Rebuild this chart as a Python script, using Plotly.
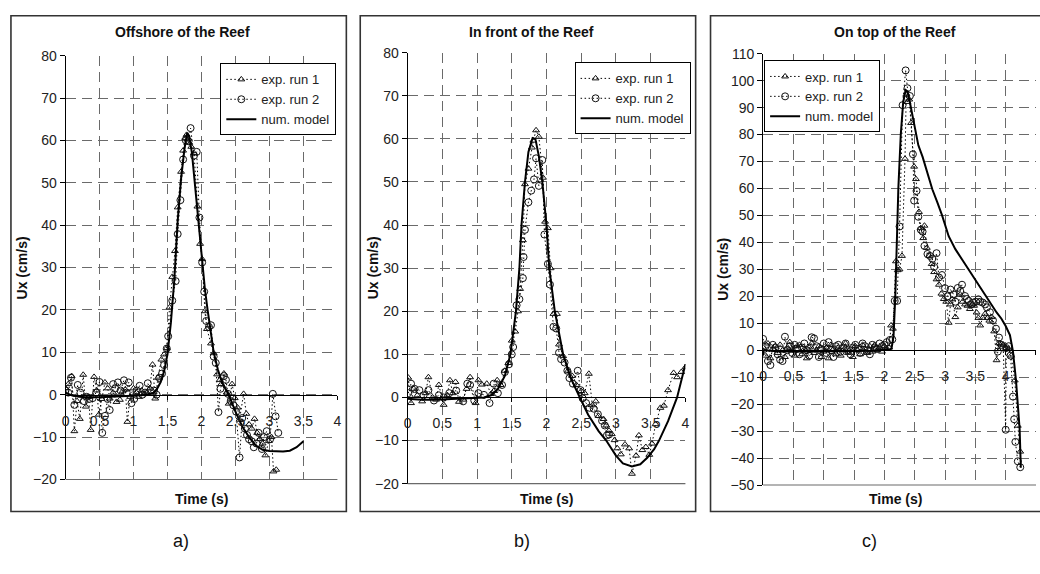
import plotly.graph_objects as go

# ---------------- data ----------------
# Panel a) Offshore of the Reef
a_run1_t = [0.00,0.04,0.09,0.13,0.17,0.21,0.26,0.30,0.34,0.37,0.42,0.46,0.49,0.53,0.58,0.62,0.65,0.70,0.75,0.80,
            0.84,0.88,0.91,0.95,1.00,1.04,1.08,1.12,1.16,1.20,1.24,1.28,1.32,1.36,1.41,1.45,1.49,1.53,1.57,1.61,
            1.65,1.70,1.73,1.76,1.78,1.81,1.85,1.89,1.94,1.98,2.01,2.05,2.08,2.14,2.18,2.23,2.27,2.29,2.33,2.37,
            2.40,2.45,2.49,2.53,2.56,2.62,2.66,2.70,2.74,2.78,2.82,2.86,2.90,2.94,2.99,3.03,3.06,3.10]
a_run1_u = [1.5,2.5,4.4,-8.6,-1.5,-5.7,4.7,-2.8,-0.5,-8.3,4.2,1.0,-4.7,-1.0,2.9,1.5,-0.9,0.5,-1.7,-1.2,
            0.8,1.2,-6.4,-0.5,1.5,0.5,-0.5,1.0,0.2,0.5,1.5,7.1,-0.9,4.0,8.3,9.5,11.0,20.6,27.8,33.9,
            44.2,52.6,57.6,60.6,61.3,59.5,58.5,57.0,44.4,35.6,32.0,19.7,15.5,12.1,9.8,4.8,3.5,2.5,5.0,0.5,
            -2.1,2.5,-0.8,-3.0,-5.9,0.2,-4.5,-7.0,-8.0,-5.7,-9.0,-10.5,-11.5,-14.3,-10.9,-10.0,-18.1,-17.7]
a_run2_t = [0.00,0.04,0.08,0.13,0.18,0.22,0.27,0.31,0.35,0.40,0.45,0.50,0.54,0.58,0.62,0.65,0.70,0.73,0.77,0.81,
            0.86,0.90,0.93,0.97,1.01,1.05,1.09,1.13,1.17,1.21,1.25,1.30,1.34,1.38,1.42,1.45,1.49,1.51,1.57,1.62,
            1.65,1.69,1.73,1.77,1.81,1.84,1.89,1.93,1.97,2.01,2.04,2.07,2.11,2.14,2.18,2.21,2.25,2.28,2.33,2.36,
            2.39,2.43,2.47,2.51,2.56,2.60,2.64,2.67,2.70,2.74,2.77,2.81,2.84,2.89,2.92,2.96,3.01,3.05,3.09,3.13]
a_run2_u = [1.0,0.5,4.0,-2.4,2.3,0.5,-1.5,-0.5,-1.0,-0.8,0.5,3.0,-9.0,-5.0,-1.0,-3.6,2.5,1.5,2.9,1.0,
            3.4,0.5,2.9,-2.0,-1.0,1.0,2.1,0.0,0.5,2.7,1.0,1.0,0.0,4.0,5.0,7.0,10.9,13.8,22.2,26.8,
            37.9,45.9,55.5,60.0,59.8,62.9,56.4,57.3,41.8,31.2,24.3,17.4,16.0,16.4,9.0,7.5,-4.1,1.4,4.4,3.5,
            0.2,-1.5,-2.5,-4.0,-14.8,-5.5,-8.0,-9.5,-10.5,-11.0,-12.4,-11.5,-9.0,-12.8,-10.0,-8.6,-10.5,0.2,-5.1,-9.0]
a_model_t = [0.0,0.1,0.2,0.3,0.5,0.7,0.9,1.1,1.2,1.3,1.35,1.4,1.45,1.5,1.55,1.6,1.63,1.65,1.7,1.75,
             1.79,1.82,1.86,1.89,1.93,1.97,2.01,2.05,2.09,2.13,2.18,2.24,2.3,2.4,2.5,2.6,2.7,2.8,2.9,3.0,
             3.1,3.2,3.3,3.4,3.5]
a_model_u = [0.5,-0.2,-0.5,-0.6,-0.6,-0.5,-0.3,-0.1,0.0,0.5,1.5,3.0,5.5,9.5,17,27,35,41,51,58,
             61.8,61,57,52,46,39,31,25,20,15,10,6,3,0,-4,-7.5,-10,-12,-13,-13.3,
             -13.4,-13.4,-13.2,-12.4,-11]

# Panel b) In front of the Reef
b_run1_t = [0.01,0.05,0.09,0.14,0.21,0.26,0.30,0.36,0.41,0.45,0.52,0.57,0.61,0.65,0.69,0.74,0.80,0.85,0.90,0.98,
            1.02,1.07,1.14,1.20,1.24,1.29,1.34,1.40,1.45,1.50,1.55,1.59,1.62,1.66,1.69,1.74,1.79,1.81,1.85,1.89,
            1.95,1.98,2.02,2.06,2.10,2.15,2.18,2.24,2.31,2.37,2.43,2.50,2.55,2.61,2.66,2.71,2.75,2.82,2.86,2.90,
            2.94,2.98,3.02,3.07,3.13,3.19,3.23,3.29,3.33,3.38,3.43,3.48,3.52,3.57,3.64,3.69,3.75,3.83,3.88,3.94,4.00]
b_run1_u = [4.6,-1.3,2.0,0.5,-0.9,1.0,4.7,0.0,-0.5,2.9,-1.7,0.5,4.0,1.0,3.6,-1.0,-0.5,2.0,4.7,-1.3,
            4.0,3.0,3.2,0.8,1.5,4.0,2.9,6.2,8.0,13.2,15.3,20.0,25.2,36.5,49.5,53.1,58.0,59.6,62.0,60.5,
            51.0,40.8,39.3,30.0,19.4,19.4,12.3,9.6,6.2,5.0,2.9,1.5,1.0,5.5,-1.8,-0.9,-4.3,-5.0,-6.5,-7.7,
            -8.5,-9.9,-11.8,-13.2,-10.9,-11.8,-17.7,-13.5,-8.8,-12.2,-11.5,-13.3,-10.7,-6.2,-2.4,-1.9,1.7,5.7,4.7,5.9,7.0]
b_run2_t = [0.01,0.05,0.10,0.17,0.23,0.30,0.38,0.45,0.52,0.60,0.70,0.80,0.86,0.90,0.96,1.02,1.10,1.18,1.24,1.30,
            1.36,1.40,1.46,1.50,1.52,1.57,1.61,1.66,1.67,1.69,1.74,1.78,1.82,1.85,1.89,1.94,1.97,2.02,2.05,2.10,
            2.14,2.18,2.21,2.26,2.30,2.33,2.38,2.45,2.49,2.52,2.57,2.62,2.68,2.74,2.80,2.84,2.87,2.90]
b_run2_u = [1.0,3.2,2.0,1.7,0.5,1.7,-0.7,0.5,0.0,1.0,1.6,-0.9,3.2,2.9,-0.7,1.0,0.6,-1.3,3.2,1.0,
            2.9,5.9,7.7,10.0,11.7,21.4,22.8,27.7,32.6,38.9,45.3,48.0,50.6,55.5,49.1,55.1,37.8,31.0,26.2,16.4,
            16.0,10.4,8.9,8.1,6.2,4.5,3.2,6.2,1.7,-0.2,-1.3,-2.4,-2.6,-3.9,-5.4,-6.5,-8.8,-8.6]
b_model_t = [0.0,0.2,0.4,0.6,0.8,1.0,1.1,1.2,1.3,1.4,1.48,1.56,1.61,1.64,1.69,1.74,1.8,1.84,1.89,1.94,
             2.0,2.04,2.12,2.24,2.35,2.48,2.6,2.75,2.86,3.0,3.1,3.23,3.35,3.45,3.55,3.62,3.75,3.88,3.95,4.0]
b_model_u = [-0.3,-0.5,-0.5,-0.4,-0.3,-0.2,0.0,0.5,2.0,5.0,10.0,20.0,30.0,40.0,50.0,57.0,60.2,60.0,56.0,50.0,
             40.0,30.0,20.0,10.0,4.5,0.0,-4.0,-7.8,-10.0,-13.5,-15.3,-16.0,-15.5,-14.0,-12.0,-10.0,-5.5,0.0,4.5,7.7]

# Panel c) On top of the Reef
c_flat_t = [0.00,0.04,0.08,0.12,0.16,0.20,0.24,0.28,0.32,0.36,0.40,0.44,0.48,0.52,0.56,0.60,0.64,0.68,0.72,0.76,
            0.80,0.84,0.88,0.92,0.96,1.00,1.04,1.08,1.12,1.16,1.20,1.24,1.28,1.32,1.36,1.40,1.44,1.48,1.52,1.56,
            1.60,1.64,1.68,1.72,1.76,1.80,1.84,1.88,1.92,1.96,2.00,2.04]
c_run1_flat_u = [1.0,-2.0,2.5,-3.0,0.5,1.5,-1.0,2.0,0.0,-2.5,1.0,3.0,0.5,-2.0,1.5,2.0,-1.5,0.5,-3.0,1.0,
                 2.5,-1.0,0.0,1.5,-2.5,-0.5,1.0,-3.0,2.0,0.5,-1.5,1.0,-2.0,0.0,2.5,-1.0,0.5,-2.5,1.5,0.0,
                 -1.5,2.0,0.5,-1.0,1.5,-0.5,2.0,0.0,1.0,-0.5,1.5,0.5]
c_run1_t = [2.08,2.11,2.14,2.19,2.22,2.25,2.29,2.34,2.36,2.38,2.41,2.44,2.49,2.52,2.57,2.60,2.64,2.66,2.70,2.74,
            2.78,2.82,2.86,2.90,2.94,2.98,3.02,3.06,3.09,3.12,3.17,3.21,3.25,3.29,3.33,3.37,3.41,3.45,3.48,3.52,
            3.55,3.58,3.62,3.66,3.70,3.73,3.77,3.81,3.85,3.89,3.93,3.96,4.01,4.05,4.09,4.15,4.20,4.24]
c_run1_u = [1.0,9.2,8.0,33.0,29.7,30.0,35.0,71.0,94.8,92.1,93.0,84.3,68.1,63.5,51.3,45.3,41.6,46.2,38.0,35.0,
            32.0,29.0,26.3,24.3,21.0,19.0,18.0,10.2,17.0,18.9,12.3,15.9,20.7,18.0,17.0,16.5,15.3,17.0,16.5,14.0,
            12.0,9.2,12.0,13.5,12.0,11.0,12.3,7.0,-3.7,2.6,2.2,2.0,0.8,0.5,-2.0,-11.2,-28.0,-37.6]
c_run2_flat_u = [4.2,1.5,-4.0,-5.5,2.0,1.0,-1.5,-3.5,-4.0,5.0,0.0,1.5,-1.0,2.0,0.5,-1.5,1.0,2.5,0.0,-2.0,
                 4.8,4.4,1.5,-2.5,0.5,2.5,-1.0,3.0,0.0,-2.5,1.5,2.0,-0.5,1.0,2.5,0.0,-1.5,1.0,2.0,0.5,
                 -1.0,2.5,1.5,0.0,-1.5,2.0,1.0,0.5,2.5,1.5,2.0,3.0]
c_run2_t = [2.09,2.13,2.17,2.21,2.25,2.30,2.35,2.38,2.42,2.47,2.49,2.53,2.56,2.60,2.63,2.66,2.71,2.75,2.79,2.82,
            2.86,2.90,2.95,3.00,3.04,3.09,3.14,3.17,3.21,3.25,3.28,3.33,3.36,3.39,3.43,3.47,3.51,3.55,3.58,3.62,
            3.66,3.69,3.74,3.79,3.84,3.87,3.89,3.93,3.96,4.00,4.01,4.05,4.08,4.12,4.14,4.16,4.20,4.24]
c_run2_u = [3.8,4.0,18.3,18.3,45.9,90.9,103.8,97.2,94.3,72.7,55.5,59.1,49.5,44.7,44.0,38.7,35.7,35.0,33.9,30.9,
            36.0,27.0,27.9,23.0,20.0,22.5,20.7,18.0,23.1,22.0,24.3,20.1,19.0,18.3,17.0,17.7,18.0,18.9,18.0,17.7,
            17.0,15.9,14.1,11.1,8.0,-0.5,4.7,2.0,1.0,-29.5,0.8,1.5,-2.0,-17.2,-25.6,-34.0,-41.2,-43.4]
c_model_t = [0.0,0.3,0.6,0.9,1.2,1.5,1.8,2.0,2.1,2.12,2.15,2.18,2.2,2.23,2.27,2.31,2.35,2.38,2.42,2.49,
             2.56,2.63,2.72,2.79,2.87,2.95,3.06,3.17,3.3,3.5,3.71,3.85,3.93,4.0,4.07,4.12,4.17,4.23,4.25]
c_model_u = [0.0,-0.5,-0.5,-0.5,-0.4,-0.3,-0.2,0.0,0.3,1.0,5.0,20.0,40.0,60.0,80.0,92.0,96.5,96.0,92.0,83.7,
             76.0,71.7,65.0,59.7,55.0,50.1,42.3,37.5,33.0,26.0,18.9,14.0,11.7,9.0,5.6,-0.4,-11.2,-29.2,-43.6]

titles = ["Offshore of the Reef", "In front of the Reef", "On top of the Reef"]
captions = ["a)", "b)", "c)"]
series_names = ["exp. run 1", "exp. run 2", "num. model"]
x_ranges = [[0, 4], [0, 4], [0, 4.5]]
y_ranges = [[-20, 80], [-20, 80], [-50, 110]]

# ---------------- layout helpers (pixels -> paper) ----------------
W, H = 1040, 574
FONT = "Liberation Sans, Arial, sans-serif"


def px(x):
    return x / W


def py(y):
    return 1 - y / H


# plot-area pixel boxes (left, right, top, bottom)
areas = [(62, 336, 49, 485), (406.7, 686.7, 46, 489.3), (765, 1040, 47, 490.7)]
frames = [(7, 345, 8, 518), (359, 697, 8, 518), (712, 1046, 8, 518)]
legend_pos = [(218, 57), (575, 56), (766, 54)]
title_x = [180, 532, 898]
ytitle_x = [18, 372, 725]
xtitle_x = [199, 547, 898]
caption_x = [178, 522, 872]

panels = [
    (a_run1_t, a_run1_u, a_run2_t, a_run2_u, a_model_t, a_model_u),
    (b_run1_t, b_run1_u, b_run2_t, b_run2_u, b_model_t, b_model_u),
    (c_flat_t + c_run1_t, c_run1_flat_u + c_run1_u, c_flat_t + c_run2_t, c_run2_flat_u + c_run2_u,
     c_model_t, c_model_u),
]

fig = go.Figure()
layout = {}
annotations = []
shapes = []
GRID = "#6a6a6a"
DASH = "10px,6px"
DOT = "1.5px,2.5px"

for i, (r1t, r1u, r2t, r2u, mt, mu) in enumerate(panels):
    n = "" if i == 0 else str(i + 1)
    xa, ya, lg = "x" + n, "y" + n, "legend" + n
    common = dict(xaxis=xa, yaxis=ya, legend=lg)
    fig.add_trace(go.Scatter(x=r1t, y=r1u, name=series_names[0], mode="lines+markers",
                             line=dict(color="black", width=1, dash=DOT),
                             marker=dict(symbol="triangle-up-open", size=6, color="#111",
                                         line=dict(width=1, color="#111")), **common))
    fig.add_trace(go.Scatter(x=r2t, y=r2u, name=series_names[1], mode="lines+markers",
                             line=dict(color="black", width=1, dash=DOT),
                             marker=dict(symbol="circle-open", size=7, color="#111",
                                         line=dict(width=1, color="#111")), **common))
    fig.add_trace(go.Scatter(x=mt, y=mu, name=series_names[2], mode="lines",
                             line=dict(color="black", width=2), **common))

    L, R, T, B = areas[i]
    y0, y1 = py(B), py(T)
    ymin, ymax = y_ranges[i]
    zero_pos = y0 + (0 - ymin) / (ymax - ymin) * (y1 - y0)

    layout["xaxis" + n] = dict(domain=[px(L), px(R)], range=x_ranges[i], dtick=0.5, tick0=0,
                               anchor="free", position=zero_pos,
                               showline=True, linecolor="black", linewidth=1,
                               showgrid=True, gridcolor=GRID, gridwidth=1, griddash=DASH,
                               ticks="outside", ticklen=4, tickcolor="black",
                               tickfont=dict(size=14, family=FONT, color="#222"),
                               ticklabelstandoff=9, zeroline=False, fixedrange=True)
    layout["yaxis" + n] = dict(domain=[y0, y1], range=y_ranges[i], dtick=10, tick0=0,
                               anchor=xa, showline=True, linecolor="black", linewidth=1,
                               showgrid=True, gridcolor=GRID, gridwidth=1, griddash=DASH,
                               ticks="outside", ticklen=5, tickcolor="black",
                               tickfont=dict(size=14, family=FONT, color="#222"),
                               zeroline=False, fixedrange=True)
    lx, ly = legend_pos[i]
    layout[lg] = dict(x=px(lx), y=py(ly), xanchor="left", yanchor="top",
                      bordercolor="black", borderwidth=1, bgcolor="white",
                      font=dict(size=13, family=FONT, color="#222"),
                      tracegroupgap=0, itemwidth=30, traceorder="normal")

    # bottom border of plot area
    shapes.append(dict(type="line", xref=xa + " domain", yref=ya + " domain",
                       x0=0, x1=1, y0=0, y1=0, line=dict(color=GRID, width=1.2)))
    # panel frame
    fl, fr, ft, fb = frames[i]
    shapes.append(dict(type="rect", xref="paper", yref="paper",
                       x0=px(fl), x1=px(fr), y0=py(fb), y1=py(ft),
                       line=dict(color="#333", width=1.6)))

    annotations.append(dict(text="<b>" + titles[i] + "</b>", x=px(title_x[i]), y=py(25),
                            xref="paper", yref="paper", showarrow=False,
                            font=dict(size=14, family=FONT, color="#111"),
                            xanchor="center", yanchor="middle"))
    annotations.append(dict(text="<b>Time (s)</b>", x=px(xtitle_x[i]),
                            y=py(505), xref="paper", yref="paper", showarrow=False,
                            font=dict(size=14, family=FONT, color="#111"),
                            xanchor="center", yanchor="middle"))
    annotations.append(dict(text="<b>Ux (cm/s)</b>", x=px(ytitle_x[i]), y=py((T + B) / 2),
                            xref="paper", yref="paper", showarrow=False, textangle=-90,
                            font=dict(size=14, family=FONT, color="#111"),
                            xanchor="center", yanchor="middle"))
    annotations.append(dict(text=captions[i], x=px(caption_x[i]), y=py(548),
                            xref="paper", yref="paper", showarrow=False,
                            font=dict(size=18, family=FONT, color="#111"),
                            xanchor="center", yanchor="middle"))

fig.update_layout(width=W, height=H, margin=dict(l=0, r=0, t=0, b=0, pad=0),
                  paper_bgcolor="white", plot_bgcolor="white", showlegend=True,
                  font=dict(family=FONT, color="#111"),
                  annotations=annotations, shapes=shapes, **layout)

fig.write_html("out.html", config={"displayModeBar": False})
